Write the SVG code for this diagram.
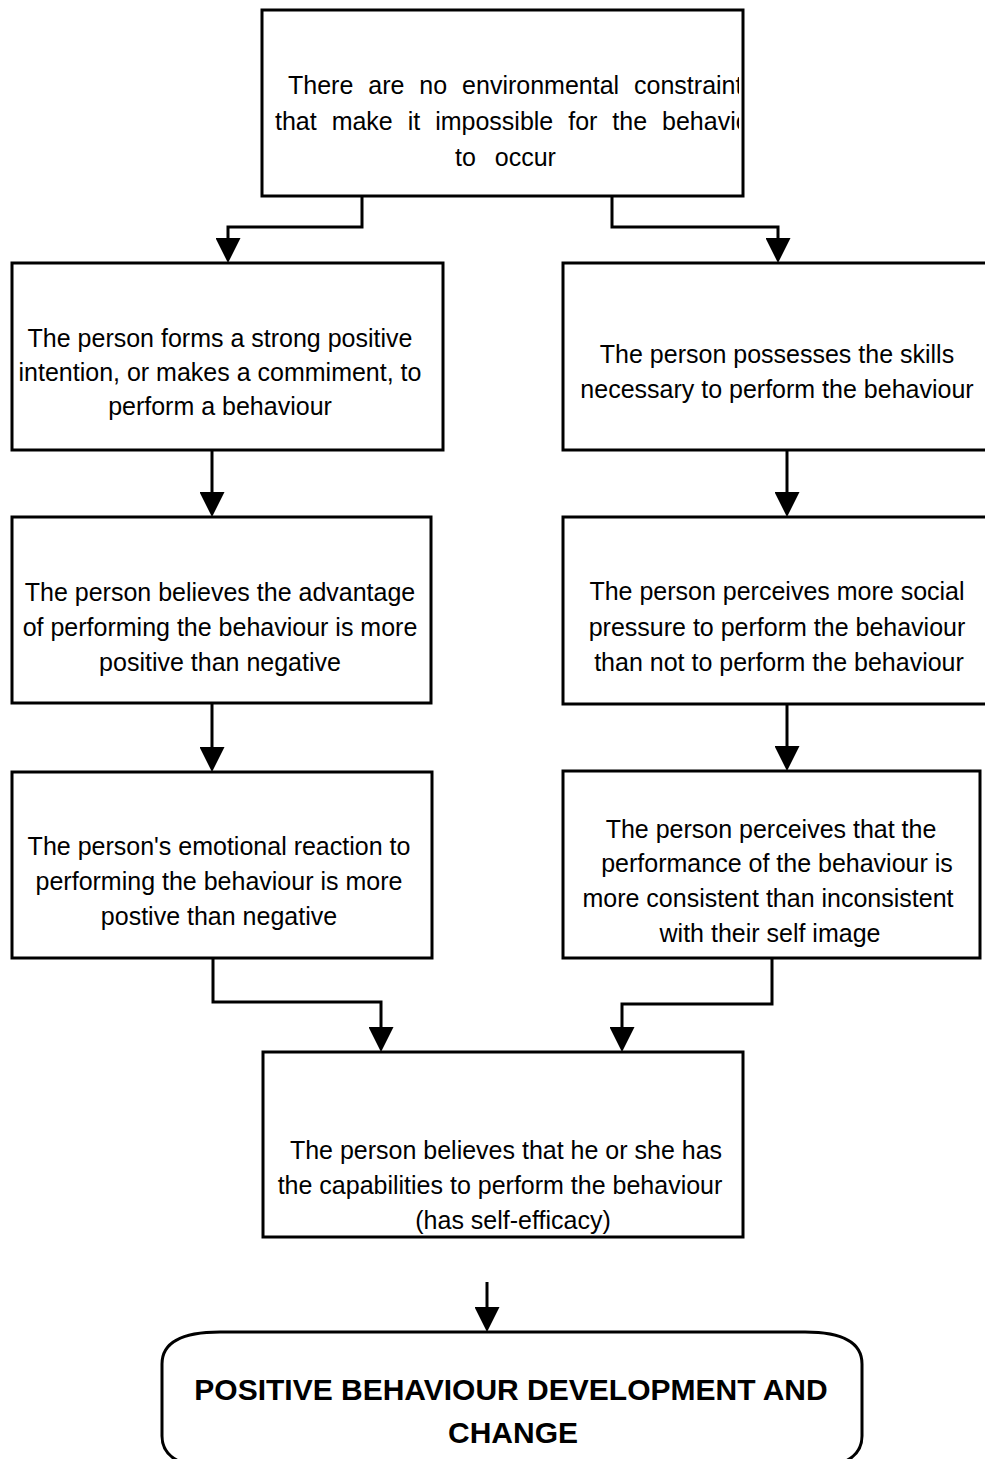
<svg xmlns="http://www.w3.org/2000/svg" width="985" height="1459" viewBox="0 0 985 1459">
<style>
.box{fill:#fff;stroke:#000;stroke-width:3}
.t{font-family:"Liberation Sans",Arial,sans-serif;font-size:25px;fill:#000;text-anchor:middle}
.tl{font-family:"Liberation Sans",Arial,sans-serif;font-size:25px;fill:#000;word-spacing:8px}
.title{font-family:"Liberation Sans",Arial,sans-serif;font-size:30px;font-weight:bold;fill:#000;text-anchor:middle}
.c{fill:none;stroke:#000;stroke-width:3}
</style>
<defs>
<marker id="ah" viewBox="0 0 25 25" refX="0" refY="12.5" markerWidth="25" markerHeight="25" markerUnits="userSpaceOnUse" orient="auto">
<path d="M0,0 L25,12.5 L0,25 Z" fill="#000"/>
</marker>
<clipPath id="clipTop"><rect x="263" y="11" width="476" height="184"/></clipPath>
</defs>

<g id="connectors">
<path class="c" d="M362,196 V227 H228 V238" marker-end="url(#ah)"/>
<path class="c" d="M612,196 V227 H778 V238" marker-end="url(#ah)"/>
<path class="c" d="M212,440 V492" marker-end="url(#ah)"/>
<path class="c" d="M787,440 V492" marker-end="url(#ah)"/>
<path class="c" d="M212,694 V747" marker-end="url(#ah)"/>
<path class="c" d="M787,695 V746" marker-end="url(#ah)"/>
<path class="c" d="M213,958 V1002 H381 V1027" marker-end="url(#ah)"/>
<path class="c" d="M772,958 V1004 H622 V1027" marker-end="url(#ah)"/>
<path class="c" d="M487,1282 V1307" marker-end="url(#ah)"/>
</g>

<g id="n-top">
<rect class="box" x="262" y="10" width="481" height="186"/>
<g clip-path="url(#clipTop)">
<text class="tl" x="288" y="94">There are no environmental constraints</text>
<text class="tl" x="275" y="130">that make it impossible for the behaviour</text>
<text class="tl" x="455" y="166" style="word-spacing:12px">to occur</text>
</g>
</g>

<g id="n-intention">
<rect class="box" x="12" y="263" width="431" height="187"/>
<text class="t" x="220" y="347">The person forms a strong positive</text>
<text class="t" x="220" y="381">intention, or makes a commiment, to</text>
<text class="t" x="220" y="415">perform a behaviour</text>
</g>

<g id="n-skills">
<rect class="box" x="563" y="263" width="440" height="187"/>
<text class="t" x="777" y="363">The person possesses the skills</text>
<text class="t" x="777" y="398">necessary to perform the behaviour</text>
</g>

<g id="n-advantage">
<rect class="box" x="12" y="517" width="419" height="186"/>
<text class="t" x="220" y="601">The person believes the advantage</text>
<text class="t" x="220" y="636">of performing the behaviour is more</text>
<text class="t" x="220" y="671">positive than negative</text>
</g>

<g id="n-social">
<rect class="box" x="563" y="517" width="440" height="187"/>
<text class="t" x="777" y="600">The person perceives more social</text>
<text class="t" x="777" y="636">pressure to perform the behaviour</text>
<text class="t" x="779" y="671">than not to perform the behaviour</text>
</g>

<g id="n-emotional">
<rect class="box" x="12" y="772" width="420" height="186"/>
<text class="t" x="219" y="855">The person's emotional reaction to</text>
<text class="t" x="219" y="890">performing the behaviour is more</text>
<text class="t" x="219" y="925">postive than negative</text>
</g>

<g id="n-selfimage">
<rect class="box" x="563" y="771" width="417" height="187"/>
<text class="t" x="771" y="838">The person perceives that the</text>
<text class="t" x="777" y="872">performance of the behaviour is</text>
<text class="t" x="768" y="907">more consistent than inconsistent</text>
<text class="t" x="770" y="942">with their self image</text>
</g>

<g id="n-selfefficacy">
<rect class="box" x="263" y="1052" width="480" height="185"/>
<text class="t" x="506" y="1159">The person believes that he or she has</text>
<text class="t" x="500" y="1194">the capabilities to perform the behaviour</text>
<text class="t" x="513" y="1229">(has self-efficacy)</text>
</g>

<g id="n-outcome">
<path class="box" d="M162,1364 Q162,1332 220,1332 L805,1332 Q862,1332 862,1364 L862,1436 Q862,1468 805,1468 L220,1468 Q162,1468 162,1436 Z"/>
<text class="title" x="511" y="1400">POSITIVE BEHAVIOUR DEVELOPMENT AND</text>
<text class="title" x="513" y="1443">CHANGE</text>
</g>
</svg>
